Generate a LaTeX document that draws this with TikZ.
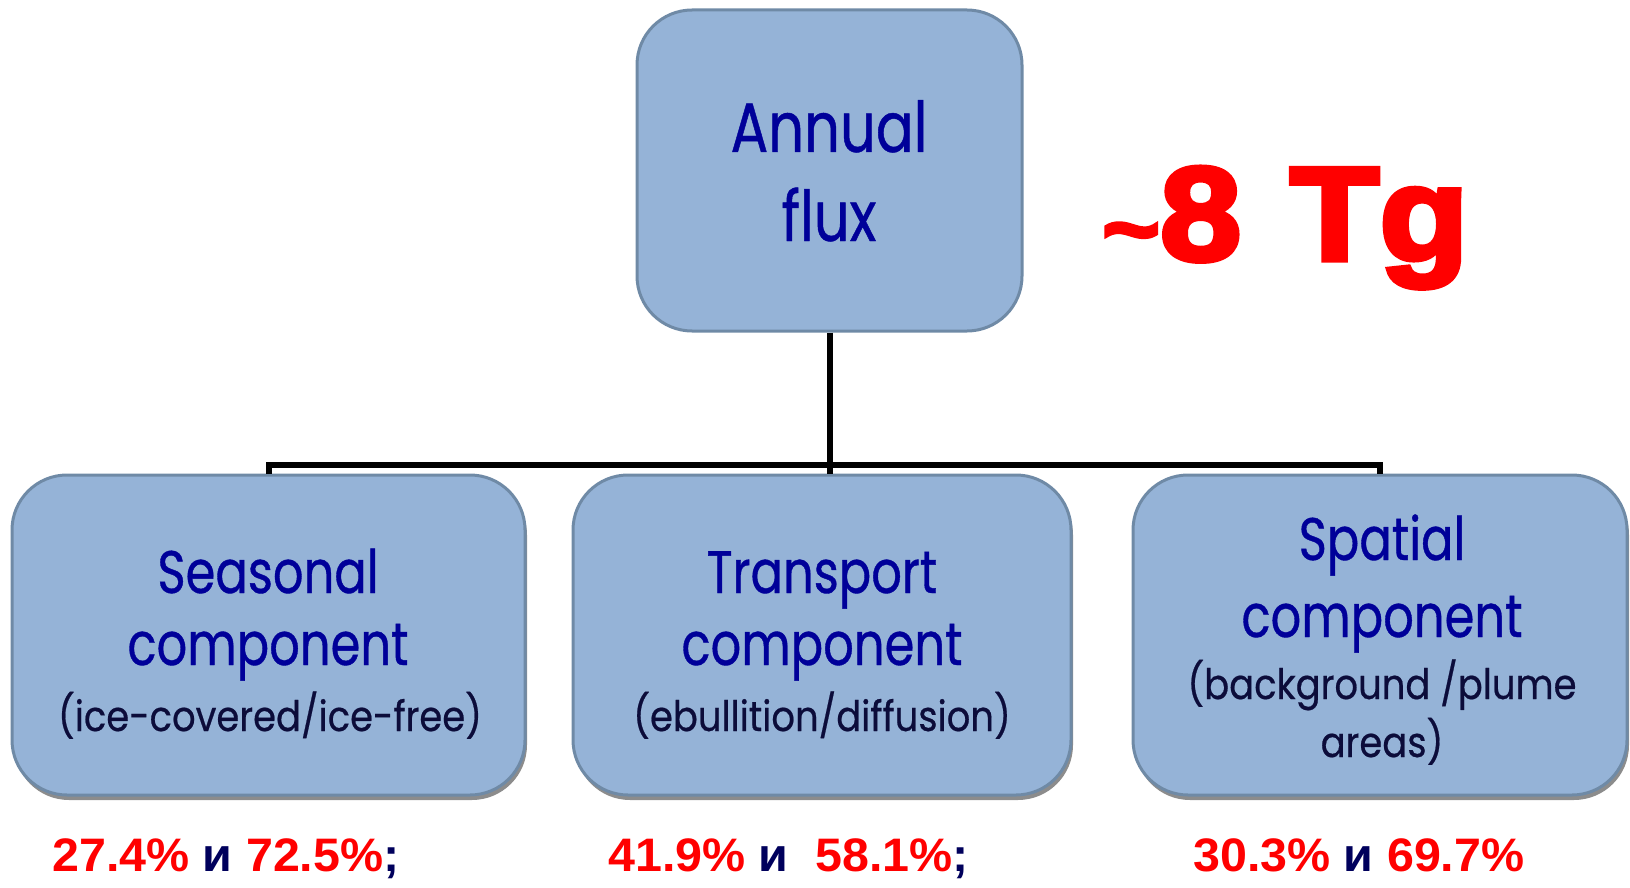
\documentclass[tikz,border=0pt]{standalone}
\usepackage{fontspec}
\usetikzlibrary{shadows}
\newfontfamily\geo[FakeStretch=0.8,FakeBold=0.6]{Poppins}
\newfontfamily\geosub[FakeStretch=0.88,FakeBold=0.5]{Poppins}
\newfontfamily\heavy[FakeBold=4,FakeStretch=1.1]{Liberation Sans Bold}
\newfontfamily\arialb[FakeStretch=1.03]{Liberation Sans Bold}
\definecolor{boxfill}{HTML}{95B3D7}
\definecolor{boxline}{HTML}{6F8AA6}
\definecolor{maintext}{HTML}{000099}
\definecolor{subtext}{HTML}{0C0C3A}
\definecolor{pred}{HTML}{FF0000}
\definecolor{pnavy}{HTML}{00005C}
\tikzset{
  box/.style={draw=boxline, line width=3pt, fill=boxfill, rounded corners=55pt, inner sep=0pt},
  shbox/.style={box, drop shadow={shadow xshift=2pt, shadow yshift=-5pt, opacity=.6, fill=black!75}},
  toptext/.style={inner sep=0pt, anchor=base, text=maintext, font=\geo\fontsize{70}{80}\selectfont},
  maintxt/.style={inner sep=0pt, anchor=base, text=maintext, font=\geo\fontsize{60}{70}\selectfont},
  subtxt/.style={inner sep=0pt, anchor=base, text=subtext, font=\geosub\fontsize{42}{48}\selectfont},
  pct/.style={inner sep=0pt, anchor=base west, text=pred, font=\arialb\fontsize{47}{52}\selectfont},
  conn/.style={line width=6pt, black},
}
\newcommand{\andru}{\textcolor{pnavy}{и}}
\begin{document}
\begin{tikzpicture}[x=1pt, y=-1pt]
\useasboundingbox (0,0) rectangle (1630,888);
% boxes
\node[box, minimum width=385pt, minimum height=321pt] (top) at (829.5,170.5) {};
\node[shbox, minimum width=513pt, minimum height=320pt] (left) at (268.5,635) {};
\node[shbox, minimum width=498pt, minimum height=320pt] (mid) at (822,635) {};
\node[shbox, minimum width=494pt, minimum height=320pt] (right) at (1380,635) {};
% connectors
\coordinate (bar) at (829,465);
\draw[conn] (top.south) -- (top.south |- mid.north);
\draw[conn] (left.north) -- (left.north |- bar) -- (right.north |- bar) -- (right.north);
% top text
\node[toptext] (t1) at (829,152) {Annual};
\node[toptext] (t2) at (829,241) {flux};
\node[inner sep=0pt, anchor=base west, text=pred, font=\heavy\fontsize{133}{140}\selectfont] (tg) at (1102,260) {{\fontsize{90}{90}\selectfont\textasciitilde}8 \hspace{8pt}Tg};
% left text
\node[maintxt] (l1) at (268,593) {Seasonal};
\node[maintxt] (l2) at (268,665) {component};
\node[subtxt] (l3) at (270,731) {(ice-covered/ice-free)};
% middle text
\node[maintxt] (m1) at (822,593) {Transport};
\node[maintxt] (m2) at (822,665) {component};
\node[subtxt] (m3) at (822,731) {(ebullition/diffusion)};
% right text
\node[maintxt] (r1) at (1382,560) {Spatial};
\node[maintxt] (r2) at (1382,637) {component};
\node[subtxt] (r3) at (1382,699) {(background /plume};
\node[subtxt] (r4) at (1382,757) {areas)};
% percentages
\node[pct] (p1) at (52,871) {27.4\% \andru{} 72.5\%\textcolor{pnavy}{;}};
\node[pct] (p2) at (608,871) {41.9\% \andru{}\ \ 58.1\%\textcolor{pnavy}{;}};
\node[pct] (p3) at (1193,871) {30.3\% \andru{} 69.7\%};
\end{tikzpicture}
\end{document}
